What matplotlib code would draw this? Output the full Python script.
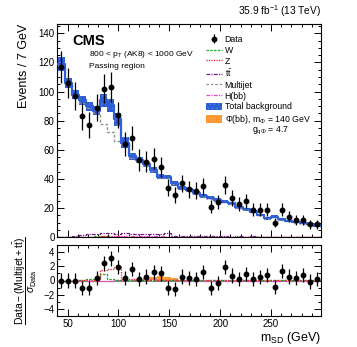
import numpy as np
import matplotlib
matplotlib.use("Agg")
import matplotlib.pyplot as plt
from matplotlib.patches import Patch
from matplotlib.lines import Line2D

plt.rcParams['font.family'] = ['Liberation Sans', 'DejaVu Sans']
plt.rcParams['mathtext.fontset'] = 'custom'
plt.rcParams['mathtext.rm'] = 'Liberation Sans'
plt.rcParams['mathtext.it'] = 'Liberation Sans:italic'
plt.rcParams['mathtext.bf'] = 'Liberation Sans:bold'
plt.rcParams['mathtext.sf'] = 'Liberation Sans'
plt.rcParams['hatch.linewidth'] = 0.6

# ---------------- data ----------------
bin_edges = np.arange(40, 300, 7)  # 40 ... 299
data = [117, 106, 97, 83, 77, 89, 102, 103, 84, 64, 68, 53, 52, 54, 48, 34, 29,
        37, 33, 32, 35, 21, 24, 36, 27, 23, 25, 19, 19, 19, 10, 19, 14, 12, 12, 9, 9]
total_bkg = [119, 105.7, 98, 94, 90, 87, 94, 90.5, 81, 65, 55.5, 53, 50, 46.2, 41.6, 41.6, 37,
             34, 32.5, 30.6, 28.3, 27.2, 25.6, 24.4, 23.3, 20.6, 19.2, 17.6, 15.3, 13, 14.1,
             12.4, 11.2, 10.3, 9.6, 8.9, 8]
total_unc = [5, 3.5, 3, 3, 3, 3, 4.5, 4.5, 4.5, 3.5, 2.2, 2, 1.8, 1.8, 1.6, 1.5, 1.5,
             1.4, 1.3, 1.3, 1.2, 1.2, 1.1, 1.1, 1.1, 1.0, 1.0, 1.0, 0.9, 0.9, 0.9,
             0.9, 0.8, 0.8, 0.8, 0.8, 0.8]
multijet = [118, 105, 97, 92.5, 88.5, 85.5, 78, 72, 66, 64, 54.5, 52, 49, 45.2, 40.6, 40.8, 36.3,
            33.4, 31.9, 30.0, 27.8, 26.6, 25.1, 23.9, 22.9, 20.1, 18.8, 17.2, 15.0, 12.6, 13.8,
            12.1, 10.9, 10.0, 9.3, 8.6, 7.8]
ttbar = [0.3, 0.4, 0.6, 1.8, 2.2, 2.6, 2.8, 3.0, 2.5, 2.9, 2.4, 2.0, 2.2, 2.6, 2.4, 2.9, 1.2,
         0.8, 0.7, 0.8, 0.6, 0.7, 0.6, 0.8, 0.5, 0.6, 0.5, 0.6, 0.4, 0.5, 0.4,
         0.5, 0.4, 0.3, 0.4, 0.3, 0.3]
hbb = [0.1, 0.1, 0.1, 0.2, 0.2, 0.3, 0.4, 0.5, 0.6, 0.8, 1.0, 1.1, 1.0, 0.8, 0.6, 0.4, 0.3,
       0.2, 0.2, 0.2, 0.1, 0.1, 0.1, 0.1, 0.1, 0.1, 0.1, 0.1, 0.1, 0.1, 0.1,
       0.1, 0.1, 0.1, 0.1, 0.1, 0.1]
wjets = [0.0, 0.0, 0.1, 0.2, 0.4, 0.6, 0.9, 0.5, 0.3, 0.2, 0.2, 0.2, 0.1, 0.1, 0.1, 0.1, 0.1,
         0.1, 0.1, 0.1, 0.1, 0.1, 0.1, 0.1, 0.1, 0.1, 0.1, 0.1, 0.1, 0.1, 0.1,
         0.1, 0.1, 0.1, 0.1, 0.1, 0.1]
zjets = [0.0, 0.0, 0.1, 0.1, 0.2, 0.4, 0.8, 1.0, 1.1, 0.4, 0.3, 0.2, 0.2, 0.1, 0.1, 0.1, 0.1,
         0.1, 0.1, 0.1, 0.1, 0.1, 0.1, 0.1, 0.1, 0.1, 0.1, 0.1, 0.1, 0.1, 0.1,
         0.1, 0.1, 0.1, 0.1, 0.1, 0.1]

# ratio panel: (Data - (Multijet + ttbar)) / sigma_Data
ratio_data = [0, 0, 0, -1.05, -1.05, 0.4, 2.4, 3.1, 1.9, 0.4, 1.65, 0.2, 0.55, 1.15, 1.0, -1.05,
              -1.2, 0.55, 0.3, 0.25, 1.15, -1.05, -0.3, 1.9, 0.7, 0.2, 0.9, 0.2, 0.45, 0.8,
              -0.9, 1.35, 0.55, 0.4, 0.8, -0.15, 0.2]
ratio_err = [1.0] * 37
ratio_w = [0, 0, 0, 0.05, 0.15, 0.25, 0.85, 0.15, 0.05, 0.03, 0.03, 0.03, 0.03, 0.02, 0.02, 0.02,
           0.02, 0.02, 0.02, 0.02, 0.02, 0.02, 0.02, 0.02, 0.02, 0.02, 0.02, 0.02, 0.02, 0.02,
           0.02, 0.02, 0.02, 0.02, 0.02, 0.02, 0.02]
ratio_z = [0, 0, 0, 0.02, 0.05, 0.1, 1.45, 1.6, 1.85, 0.25, 0.2, 0.12, 0.1, 0.1, 0.08, 0.08,
           0.06, 0.05, 0.05, 0.04, 0.04, 0.04, 0.03, 0.03, 0.03, 0.03, 0.03, 0.03, 0.03, 0.03,
           0.03, 0.03, 0.03, 0.03, 0.03, 0.03, 0.03]
ratio_hbb = [0, 0, 0, 0, 0, 0, 0, 0, 0.02, 0.05, 0.12, 0.18, 0.2, 0.15, 0.08, 0.04,
             0.02, 0, 0, 0, 0, 0, 0, 0, 0, 0, 0, 0, 0, 0, 0, 0, 0, 0, 0, 0, 0]
ratio_signal = [0, 0, 0, 0, 0, 0, 0, 0, 0, 0, 0, 0.05, 0.3, 0.5, 0.6, 0.55,
                0.4, 0, 0, 0, 0, 0, 0, 0, 0, 0, 0, 0, 0, 0, 0, 0, 0, 0, 0, 0, 0]

centers = 0.5 * (bin_edges[:-1] + bin_edges[1:])


def stepvals(v):
    v = list(v)
    return np.array(v + [v[-1]])


# ---------------- figure ----------------
W, H = 357, 347
fig = plt.figure(figsize=(W / 100, H / 100), dpi=100)
L, R = 57.4, 320.9
ax = fig.add_axes([L / W, 1 - 237.3 / H, (R - L) / W, (237.3 - 24) / H])
rx = fig.add_axes([L / W, 1 - 316 / H, (R - L) / W, (316 - 245) / H])

blue = '#2f60d6'
band = '#2c5cd4'
hatchc = '#4f7ee2'

# total background band + line
lo = stepvals(np.array(total_bkg) - np.array(total_unc))
hi = stepvals(np.array(total_bkg) + np.array(total_unc))
ax.fill_between(bin_edges, lo, hi, step='post', facecolor=band, edgecolor=hatchc,
                hatch='....', linewidth=0, zorder=2)
ax.step(bin_edges, stepvals(total_bkg), where='post', color=blue, lw=1.6, zorder=3)

ax.step(bin_edges, stepvals(multijet), where='post', color='#909090', lw=1.0, ls=(0, (2, 1.5)), zorder=2.5)
ax.step(bin_edges, stepvals(wjets), where='post', color='#22aa22', lw=0.9, ls=(0, (2, 1)), zorder=2.4)
ax.step(bin_edges, stepvals(zjets), where='post', color='#ee2222', lw=0.9, ls=(0, (1, 1)), zorder=2.4)
ax.step(bin_edges, stepvals(ttbar), where='post', color='#7a1a8a', lw=0.9, ls=(0, (3, 1, 1, 1)), zorder=2.4)
ax.step(bin_edges, stepvals(hbb), where='post', color='#ee44cc', lw=0.9, ls=(0, (3, 1, 1, 1)), zorder=2.4)

err = ax.errorbar(centers, data, yerr=np.sqrt(data), fmt='o', color='black', ms=3.2,
                  elinewidth=0.9, capsize=0, zorder=5)

ax.set_xlim(40, 299)
ax.set_ylim(0, 146.4)
ax.set_yticks(np.arange(0, 141, 20))
ax.set_yticks(np.arange(0, 146, 5), minor=True)
ax.set_xticks(np.arange(50, 300, 50))
ax.set_xticks(np.arange(40, 300, 10), minor=True)
ax.tick_params(axis='both', which='both', direction='in', top=True, right=True, labelsize=7)
ax.tick_params(which='major', length=5, width=0.7)
ax.tick_params(which='minor', length=2.5, width=0.7)
ax.tick_params(axis='x', labelbottom=False)
ax.tick_params(axis='y', pad=2)
for s in ax.spines.values():
    s.set_linewidth(0.8)

ax.set_ylabel('Events / 7 GeV', fontsize=9, loc='top', labelpad=6)

ax.text(0.058, 0.955, 'CMS', transform=ax.transAxes, fontsize=10.5, fontweight='bold',
        va='top', ha='left')
ax.text(0.12, 0.855, r'800 < p$_{\mathrm{T}}$ (AK8) < 1000 GeV', transform=ax.transAxes,
        fontsize=6.0, va='center', ha='left')
ax.text(0.12, 0.80, 'Passing region', transform=ax.transAxes, fontsize=6.0,
        va='center', ha='left')
ax.text(1.0, 1.025, r'35.9 fb$^{-1}$ (13 TeV)', transform=ax.transAxes, fontsize=7.3,
        ha='right', va='bottom')

handles = [err,
           Line2D([], [], color='#22aa22', lw=0.9, ls=(0, (2, 1))),
           Line2D([], [], color='#ee2222', lw=0.9, ls=(0, (1, 1))),
           Line2D([], [], color='#7a1a8a', lw=0.9, ls=(0, (3, 1, 1, 1))),
           Line2D([], [], color='#909090', lw=0.9, ls=(0, (2, 1.5))),
           Line2D([], [], color='#ee44cc', lw=0.9, ls=(0, (3, 1, 1, 1))),
           Patch(facecolor=band, edgecolor=hatchc, hatch='....', lw=0),
           Patch(facecolor='#ff9933', edgecolor='none')]
labels = ['Data', 'W', 'Z', r't$\mathrm{\bar{t}}$', 'Multijet', 'H(bb)', 'Total background',
          r'$\Phi$(bb), m$_{\Phi}$ = 140 GeV']
ax.legend(handles, labels, loc='upper left', bbox_to_anchor=(0.565, 0.948), frameon=False,
          fontsize=6.3, handlelength=1.75, handleheight=0.9, handletextpad=0.35,
          labelspacing=0.2, borderpad=0, borderaxespad=0)
ax.text(0.74, 0.50, r'g$_{\mathrm{q}\Phi}$ = 4.7', transform=ax.transAxes, fontsize=6.3,
        ha='left', va='center')

# ---------------- ratio panel ----------------
rx.axhline(0, color='#7a8a7a', lw=0.8, zorder=1)
rx.fill_between(bin_edges, 0, stepvals(ratio_signal), step='post', color='#ff9933',
                linewidth=0, zorder=2)
rx.step(bin_edges, stepvals(ratio_hbb), where='post', color='#ee44cc', lw=0.9,
        ls=(0, (3, 1, 1, 1)), zorder=2.5)
rx.step(bin_edges, stepvals(ratio_w), where='post', color='#22aa22', lw=0.9,
        ls=(0, (2, 1)), zorder=2.6)
rx.step(bin_edges, stepvals(ratio_z), where='post', color='#ee2222', lw=0.9,
        ls=(0, (1, 1)), zorder=2.6)
rx.errorbar(centers, ratio_data, yerr=ratio_err, fmt='o', color='black', ms=3.2,
            elinewidth=0.9, capsize=0, zorder=5)
rx.set_xlim(40, 299)
rx.set_ylim(-5, 5)
rx.set_yticks([-4, -2, 0, 2, 4])
rx.set_yticks(np.arange(-5, 6, 1), minor=True)
rx.set_xticks(np.arange(50, 300, 50))
rx.set_xticks(np.arange(40, 300, 10), minor=True)
rx.tick_params(axis='both', which='both', direction='in', top=True, right=True, labelsize=7)
rx.tick_params(which='major', length=5, width=0.7)
rx.tick_params(which='minor', length=2.5, width=0.7)
rx.tick_params(axis='y', pad=2)
rx.tick_params(axis='x', pad=2)
for s in rx.spines.values():
    s.set_linewidth(0.8)
rx.set_xlabel(r'm$_{\mathrm{SD}}$ (GeV)', fontsize=9, loc='right', labelpad=1)
rx.set_ylabel(r'$\dfrac{\mathrm{Data - (Multijet + t\bar{t})}}{\sigma_{\mathrm{Data}}}$',
              fontsize=7.5, labelpad=3)

fig.savefig('out.png', dpi=100)
